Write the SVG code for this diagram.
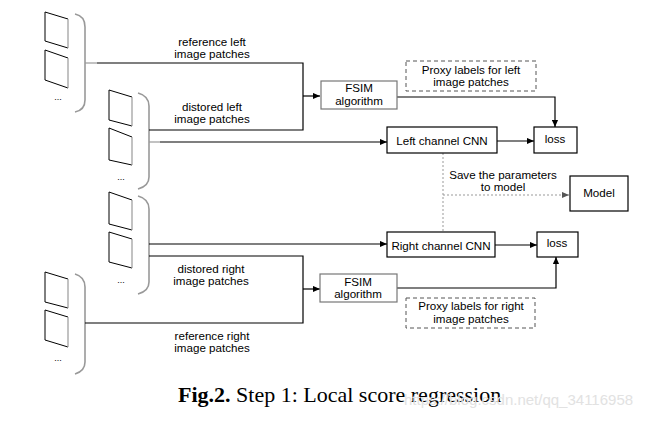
<svg xmlns="http://www.w3.org/2000/svg" width="656" height="423" viewBox="0 0 656 423">
<defs>
<marker id="ah" viewBox="0 0 8 8" refX="8" refY="4" markerWidth="7" markerHeight="7" markerUnits="userSpaceOnUse" orient="auto">
<path d="M0,0.5 L8,4 L0,7.5 Z" fill="#000"/>
</marker>
<marker id="ahg" viewBox="0 0 8 8" refX="8" refY="4" markerWidth="7" markerHeight="7" markerUnits="userSpaceOnUse" orient="auto">
<path d="M0,0.5 L8,4 L0,7.5 Z" fill="#555"/>
</marker>
</defs>
<style>
.t{font-family:"Liberation Sans","Noto Sans",sans-serif;font-size:11.6px;fill:#000;text-anchor:middle}
.p{fill:none;stroke:#000;stroke-width:1}
.pr{stroke:#999;stroke-width:1.2}
.br{fill:none;stroke:#999;stroke-width:1.6}
.dots{font-family:"Liberation Sans",sans-serif;font-size:9px;fill:#000;text-anchor:middle}
.c{fill:none;stroke:#000;stroke-width:1.2}
.cg{fill:none;stroke:#999;stroke-width:1.2}
.box{fill:#fff;stroke:#000;stroke-width:1.2}
.gbox{fill:#fff;stroke:#777;stroke-width:1.2}
.dbox{fill:#fff;stroke:#555;stroke-width:1;stroke-dasharray:4,3}
.dl{fill:none;stroke:#999;stroke-width:1;stroke-dasharray:2,2}
</style>
<rect width="656" height="423" fill="#fff"/>

<g id="patches-ref-left">
<polyline class="p" points="68,19 45,12 45,41 68,48"/><line class="pr" x1="68" y1="19" x2="68" y2="48"/>
<polyline class="p" points="68,58 45,50 45,80 68,88"/><line class="pr" x1="68" y1="58" x2="68" y2="88"/>
<text class="dots" x="58" y="100">...</text>
<path class="br" d="M75,14 Q85,16 85,27 L85,100 Q85,110 75,112"/>
</g>
<g id="patches-dist-left">
<polyline class="p" points="132,97 109,90 109,120 132,126"/><line class="pr" x1="132" y1="97" x2="132" y2="126"/>
<polyline class="p" points="132,137 109,128 109,160 132,165"/><line class="pr" x1="132" y1="137" x2="132" y2="165"/>
<text class="dots" x="121" y="180">...</text>
<path class="br" d="M138,93 Q149,96 149,106 L149,177 Q149,186 138,189"/>
</g>
<g id="patches-dist-right">
<polyline class="p" points="132,200 109,192 109,224 132,230"/><line class="pr" x1="132" y1="200" x2="132" y2="230"/>
<polyline class="p" points="132,239 109,232 109,262 132,268"/><line class="pr" x1="132" y1="239" x2="132" y2="268"/>
<text class="dots" x="121" y="283">...</text>
<path class="br" d="M138,196 Q149,199 149,209 L149,282 Q149,291 138,294"/>
</g>
<g id="patches-ref-right">
<polyline class="p" points="68,279 45,272 45,302 68,308"/><line class="pr" x1="68" y1="279" x2="68" y2="308"/>
<polyline class="p" points="68,317 45,310 45,340 68,347"/><line class="pr" x1="68" y1="317" x2="68" y2="347"/>
<text class="dots" x="58" y="361">...</text>
<path class="br" d="M75,274 Q85,277 85,287 L85,362 Q85,371 75,374"/>
</g>

<g id="connectors">
<line class="cg" x1="85" y1="63" x2="97" y2="63"/>
<polyline class="c" points="97,63 303,63 303,130 149,130"/>
<line class="c" x1="303" y1="96" x2="320" y2="96" marker-end="url(#ah)"/>
<line class="cg" x1="149" y1="142" x2="160" y2="142"/>
<line class="c" x1="160" y1="142" x2="387" y2="142" marker-end="url(#ah)"/>
<polyline class="c" points="397,97 555,97 555,127" marker-end="url(#ah)"/>
<line class="c" x1="497" y1="141" x2="534" y2="141" marker-end="url(#ah)"/>
<line class="dl" x1="443" y1="153" x2="443" y2="232"/>
<line class="dl" x1="443" y1="195" x2="569" y2="195" marker-end="url(#ahg)"/>
<line class="c" x1="149" y1="244" x2="387" y2="244" marker-end="url(#ah)"/>
<polyline class="c" points="149,256 303,256 303,323 85,323"/>
<line class="c" x1="303" y1="289" x2="320" y2="289" marker-end="url(#ah)"/>
<polyline class="c" points="397,288 556,288 556,257" marker-end="url(#ah)"/>
<line class="c" x1="495" y1="245" x2="537" y2="245" marker-end="url(#ah)"/>
</g>

<g id="label-ref-left"><text class="t" x="212" y="46">reference left</text><text class="t" x="212" y="58">image patches</text></g>
<g id="label-dist-left"><text class="t" x="212" y="111">distored left</text><text class="t" x="212" y="123">image patches</text></g>
<g id="label-dist-right"><text class="t" x="211" y="273">distored right</text><text class="t" x="211" y="285">image patches</text></g>
<g id="label-ref-right"><text class="t" x="212" y="340">reference right</text><text class="t" x="212" y="352">image patches</text></g>

<g id="fsim-left"><rect class="gbox" x="321" y="81" width="76" height="28"/><text class="t" x="359" y="92">FSIM</text><text class="t" x="359" y="105">algorithm</text></g>
<g id="proxy-left"><rect class="dbox" x="406" y="61" width="130" height="30"/><text class="t" x="471" y="74">Proxy labels for left</text><text class="t" x="471" y="86">image patches</text></g>
<g id="left-cnn"><rect class="box" x="387" y="127" width="110" height="26"/><text class="t" x="442" y="145">Left channel CNN</text></g>
<g id="loss-left"><rect class="box" x="534" y="127" width="43" height="26"/><text class="t" x="555" y="143">loss</text></g>
<g id="save-label"><text class="t" x="503" y="179">Save the parameters</text><text class="t" x="503" y="191">to model</text></g>
<g id="model"><rect class="box" x="570" y="176" width="58" height="35"/><text class="t" x="599" y="197">Model</text></g>
<g id="right-cnn"><rect class="box" x="387" y="232" width="108" height="25"/><text class="t" x="441" y="250">Right channel CNN</text></g>
<g id="loss-right"><rect class="box" x="537" y="232" width="41" height="25"/><text class="t" x="557" y="247">loss</text></g>
<g id="fsim-right"><rect class="gbox" x="320" y="274" width="77" height="28"/><text class="t" x="358" y="286">FSIM</text><text class="t" x="358" y="298">algorithm</text></g>
<g id="proxy-right"><rect class="dbox" x="406" y="298" width="129" height="30"/><text class="t" x="471" y="310">Proxy labels for right</text><text class="t" x="471" y="323">image patches</text></g>

<g id="caption">
<text x="178" y="402" style="font-family:'Liberation Serif',serif;font-size:22px;fill:#000"><tspan font-weight="bold">Fig.2.</tspan> Step 1: Local score regression</text>
<text x="404" y="405" style="font-family:'Liberation Sans',sans-serif;font-size:15px;fill:#e2e2e2">https://blog.csdn.net/qq_34116958</text>
</g>
</svg>
